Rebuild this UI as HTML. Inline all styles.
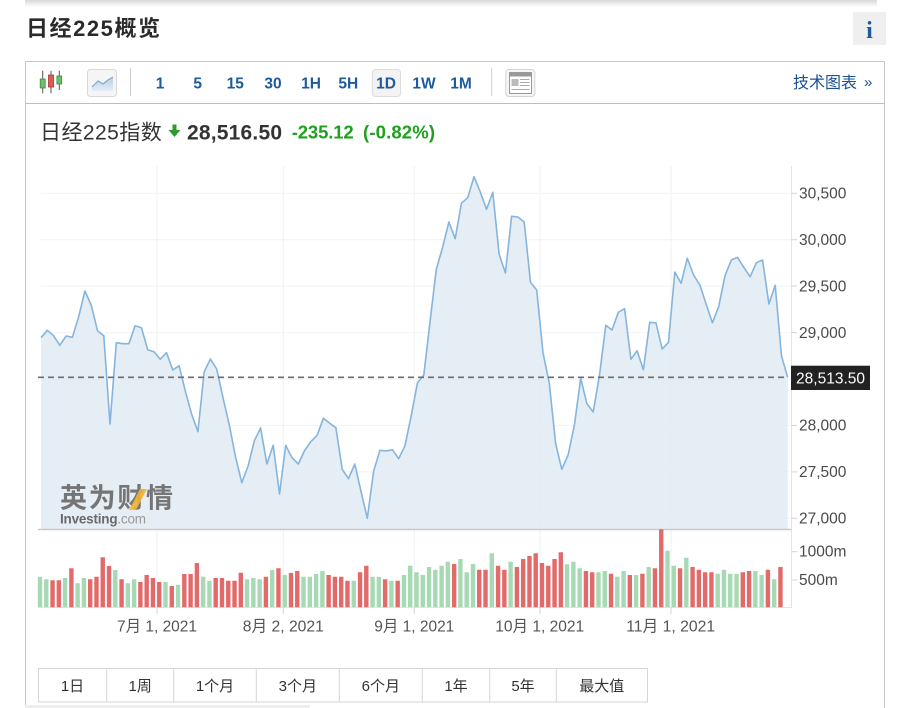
<!DOCTYPE html>
<html><head><meta charset="utf-8"><style>
html,body{margin:0;padding:0;background:#fff;width:913px;height:708px;overflow:hidden;}
svg{display:block;font-family:"Liberation Sans","Noto Sans CJK SC",sans-serif;}
</style></head><body>
<svg width="913" height="708" viewBox="0 0 913 708" xmlns="http://www.w3.org/2000/svg">
<defs>
<linearGradient id="sh" x1="0" y1="0" x2="0" y2="1"><stop offset="0" stop-color="#d8d8d8"/><stop offset="1" stop-color="#ffffff"/></linearGradient>
<linearGradient id="ic" x1="0" y1="0" x2="0" y2="1"><stop offset="0" stop-color="#b9cfe6"/><stop offset="1" stop-color="#e4edf6"/></linearGradient>
</defs>
<!-- top shadow -->
<rect x="25" y="0" width="852" height="7" fill="url(#sh)"/>
<!-- title -->
<text x="26" y="36" font-size="22" font-weight="bold" fill="#2a2a2a" textLength="134" lengthAdjust="spacing">日经225概览</text>
<!-- info button -->
<rect x="853" y="12" width="33" height="33" fill="#efefef"/>
<text x="869.5" y="38" font-size="24" font-weight="bold" fill="#1e5aa0" text-anchor="middle" font-family="Liberation Serif,serif">i</text>
<!-- outer box -->
<g stroke="#c8c8c8" stroke-width="1">
<line x1="25" y1="61.5" x2="885" y2="61.5"/>
<line x1="25.5" y1="61" x2="25.5" y2="708"/>
<line x1="884.5" y1="61" x2="884.5" y2="708"/>
</g>
<line x1="25" y1="103.5" x2="885" y2="103.5" stroke="#bdbdbd"/>
<!-- candle icon -->
<g stroke="#555" stroke-width="1">
<line x1="42.7" y1="70.7" x2="42.7" y2="93.3"/><line x1="51" y1="70.7" x2="51" y2="93.3"/><line x1="59.3" y1="70.7" x2="59.3" y2="90"/>
</g>
<rect x="40.2" y="79" width="5" height="9" fill="#6cc06c" stroke="#3a8a3a" stroke-width="0.8"/>
<rect x="48.5" y="75" width="5" height="12" fill="#e05a5a" stroke="#a33" stroke-width="0.8"/>
<rect x="56.9" y="76" width="4.8" height="8" fill="#6cc06c" stroke="#3a8a3a" stroke-width="0.8"/>
<!-- line icon btn -->
<rect x="87.5" y="69.5" width="29" height="27" rx="3" fill="#f5f5f5" stroke="#d8d8d8"/>
<polygon points="92,87 98,81 103,84 108,80 113,77 113,91 92,91" fill="url(#ic)"/>
<polyline points="92,87 98,81 103,84 108,80 113,77" fill="none" stroke="#7fa7cf" stroke-width="1.2"/>
<line x1="130.5" y1="68" x2="130.5" y2="96" stroke="#cfcfcf"/>
<!-- 1D box -->
<rect x="372.5" y="69.5" width="28" height="27" rx="3" fill="#f3f3f3" stroke="#dcdcdc"/>
<g font-size="15.5" font-weight="bold" fill="#1d5a9e" text-anchor="middle">
<text x="160" y="88.3">1</text><text x="197.7" y="88.3">5</text><text x="235.3" y="88.3">15</text><text x="273" y="88.3">30</text><text x="311" y="88.3">1H</text><text x="348.3" y="88.3">5H</text><text x="386" y="88.3">1D</text><text x="424" y="88.3">1W</text><text x="461" y="88.3">1M</text>
</g>
<line x1="491.7" y1="68" x2="491.7" y2="96" stroke="#cfcfcf"/>
<!-- table icon -->
<rect x="505.8" y="69.5" width="29" height="27" rx="3" fill="#f6f6f6" stroke="#d4d4d4"/>
<rect x="509.5" y="72.5" width="22" height="21" fill="#fff" stroke="#999"/>
<rect x="510" y="73" width="21" height="3.5" fill="#999"/>
<rect x="511.5" y="79" width="7" height="7" fill="#bbb"/>
<g stroke="#aaa" stroke-width="1"><line x1="520" y1="79.5" x2="529.5" y2="79.5"/><line x1="520" y1="82.5" x2="529.5" y2="82.5"/><line x1="520" y1="85.5" x2="529.5" y2="85.5"/><line x1="511.5" y1="89.5" x2="529.5" y2="89.5"/></g>
<text x="793" y="88" font-size="16" fill="#1b5190" textLength="64" lengthAdjust="spacing">技术图表</text>
<text x="864" y="87" font-size="15" fill="#1b5190">»</text>
<!-- quote row -->
<text x="40" y="139.3" font-size="21" fill="#333" textLength="121.7" lengthAdjust="spacing">日经225指数</text>
<rect x="172.5" y="124.5" width="4" height="6" fill="#2e9b2e"/>
<polygon points="168.5,130 180.5,130 174.5,137" fill="#2e9b2e"/>
<text x="187" y="139.3" font-size="21" font-weight="bold" fill="#333" textLength="95" lengthAdjust="spacing">28,516.50</text>
<text x="291.7" y="138.7" font-size="18.5" font-weight="bold" fill="#1fa01f" textLength="62" lengthAdjust="spacing">-235.12</text>
<text x="363" y="138.7" font-size="18.5" font-weight="bold" fill="#1fa01f" textLength="72" lengthAdjust="spacing">(-0.82%)</text>

<!-- grid -->
<g stroke="#f1f2f4" stroke-width="1">
<line x1="41" y1="193.3" x2="791" y2="193.3"/><line x1="41" y1="239.7" x2="791" y2="239.7"/><line x1="41" y1="286.1" x2="791" y2="286.1"/><line x1="41" y1="332.6" x2="791" y2="332.6"/><line x1="41" y1="379" x2="791" y2="379"/><line x1="41" y1="425.4" x2="791" y2="425.4"/><line x1="41" y1="471.9" x2="791" y2="471.9"/><line x1="41" y1="518.3" x2="791" y2="518.3"/>
<line x1="157" y1="166" x2="157" y2="607"/><line x1="283.3" y1="166" x2="283.3" y2="607"/><line x1="414.3" y1="166" x2="414.3" y2="607"/><line x1="540" y1="166" x2="540" y2="607"/><line x1="671" y1="166" x2="671" y2="607"/>
</g>
<!-- area -->
<polygon fill="#e3ecf4" fill-opacity="0.92" points="41,337.7 47.3,330.3 53.6,335.7 59.8,345.3 66.1,336 72.4,337.3 78.7,316.7 84.9,291 91.2,305 97.5,330.7 103.8,335.7 110,424 116.3,342.7 122.6,343.7 128.9,343.7 135.1,325.7 141.4,327.7 147.7,349.7 154,351.7 160.2,359.3 166.5,352.7 172.8,370 179.1,365.7 185.3,391 191.6,414 197.9,431.7 204.2,371.7 210.4,359 216.7,369 223,397.7 229.3,425 235.5,456.7 241.8,482.7 248.1,466 254.4,440.7 260.6,428 266.9,464 273.2,445.3 279.5,494 285.7,445.3 292,457.7 298.3,464 304.6,450.5 310.8,441.7 317.1,435.3 323.4,418.3 329.7,423.3 335.9,427.7 342.2,469.3 348.5,478.7 354.8,464 361,491.3 367.3,518.3 373.6,471.3 379.9,450.3 386.1,451 392.4,449.7 398.7,458.7 405,445.7 411.2,415.7 417.5,382.7 423.8,375 430,322 436.3,269.3 442.6,247.3 448.9,222 455.2,238.7 461.4,203.3 467.7,197.7 474,176.7 480.3,192 486.5,209.3 492.8,192.3 499.1,254 505.4,273 511.6,216.3 517.9,217 524.2,222 530.5,282.3 536.7,290 543,352.7 549.3,383.3 555.6,443.3 561.8,469.3 568.1,455 574.4,425 580.7,378.3 586.9,403.7 593.2,412 599.5,375 605.8,325.3 612,330 618.3,312.3 624.6,308.7 630.9,359.3 637.1,350.7 643.4,369.7 649.7,322.3 656,323 662.2,349 668.5,342.3 674.8,272 681.1,283.3 687.3,258.3 693.6,275 699.9,285 706.2,304.3 712.4,322.7 718.7,306.7 725,275.7 731.3,260 737.5,257.3 743.8,267.3 750.1,276.7 756.4,262.7 762.6,260 768.9,304 775.2,285.3 781.5,356 787.7,377.3 787.7,529 41,529"/>
<!-- watermark -->
<text x="60" y="507.5" font-size="27" font-weight="bold" fill="#757575" textLength="113" lengthAdjust="spacing">英为财情</text>
<polygon points="140,489 147,489 136,510 129,510" fill="#f2b233" opacity="0.9"/>
<text x="60" y="523.5" font-size="13.5" fill="#6a6a6a" textLength="86" lengthAdjust="spacing"><tspan font-weight="bold">Investing</tspan><tspan fill="#9a9a9a">.com</tspan></text>
<!-- line -->
<polyline fill="none" stroke="#85b5dd" stroke-width="1.6" stroke-linejoin="round" points="41,337.7 47.3,330.3 53.6,335.7 59.8,345.3 66.1,336 72.4,337.3 78.7,316.7 84.9,291 91.2,305 97.5,330.7 103.8,335.7 110,424 116.3,342.7 122.6,343.7 128.9,343.7 135.1,325.7 141.4,327.7 147.7,349.7 154,351.7 160.2,359.3 166.5,352.7 172.8,370 179.1,365.7 185.3,391 191.6,414 197.9,431.7 204.2,371.7 210.4,359 216.7,369 223,397.7 229.3,425 235.5,456.7 241.8,482.7 248.1,466 254.4,440.7 260.6,428 266.9,464 273.2,445.3 279.5,494 285.7,445.3 292,457.7 298.3,464 304.6,450.5 310.8,441.7 317.1,435.3 323.4,418.3 329.7,423.3 335.9,427.7 342.2,469.3 348.5,478.7 354.8,464 361,491.3 367.3,518.3 373.6,471.3 379.9,450.3 386.1,451 392.4,449.7 398.7,458.7 405,445.7 411.2,415.7 417.5,382.7 423.8,375 430,322 436.3,269.3 442.6,247.3 448.9,222 455.2,238.7 461.4,203.3 467.7,197.7 474,176.7 480.3,192 486.5,209.3 492.8,192.3 499.1,254 505.4,273 511.6,216.3 517.9,217 524.2,222 530.5,282.3 536.7,290 543,352.7 549.3,383.3 555.6,443.3 561.8,469.3 568.1,455 574.4,425 580.7,378.3 586.9,403.7 593.2,412 599.5,375 605.8,325.3 612,330 618.3,312.3 624.6,308.7 630.9,359.3 637.1,350.7 643.4,369.7 649.7,322.3 656,323 662.2,349 668.5,342.3 674.8,272 681.1,283.3 687.3,258.3 693.6,275 699.9,285 706.2,304.3 712.4,322.7 718.7,306.7 725,275.7 731.3,260 737.5,257.3 743.8,267.3 750.1,276.7 756.4,262.7 762.6,260 768.9,304 775.2,285.3 781.5,356 787.7,377.3"/>
<!-- dashed current line -->
<line x1="38" y1="377.3" x2="788" y2="377.3" stroke="#6e6e6e" stroke-width="1.6" stroke-dasharray="6,4"/>
<!-- axes -->
<line x1="38" y1="529.5" x2="791" y2="529.5" stroke="#c9c9c9" stroke-width="1.5"/>
<line x1="38" y1="607.5" x2="791" y2="607.5" stroke="#e2e7ec"/>
<line x1="791.5" y1="166" x2="791.5" y2="608" stroke="#dfe5ea"/>
<g stroke="#cfd6dc">
<line x1="792" y1="193.3" x2="797" y2="193.3"/><line x1="792" y1="239.7" x2="797" y2="239.7"/><line x1="792" y1="286.1" x2="797" y2="286.1"/><line x1="792" y1="332.6" x2="797" y2="332.6"/><line x1="792" y1="425.4" x2="797" y2="425.4"/><line x1="792" y1="471.9" x2="797" y2="471.9"/><line x1="792" y1="518.3" x2="797" y2="518.3"/><line x1="792" y1="551.7" x2="797" y2="551.7"/><line x1="792" y1="580" x2="797" y2="580"/>
<line x1="157" y1="607" x2="157" y2="614"/><line x1="283.3" y1="607" x2="283.3" y2="614"/><line x1="414.3" y1="607" x2="414.3" y2="614"/><line x1="540" y1="607" x2="540" y2="614"/><line x1="671" y1="607" x2="671" y2="614"/>
</g>
<!-- volume bars -->
<path fill="none" stroke="#a7d9b4" stroke-width="4.4" d="M40 607.3V576.7 M46.28 607.3V579.3 M65.1 607.3V578 M77.65 607.3V583.3 M83.93 607.3V578 M115.3 607.3V570 M127.85 607.3V583.3 M134.13 607.3V579.3 M165.5 607.3V582 M178.05 607.3V584.7 M203.15 607.3V576.7 M209.43 607.3V580.7 M247.08 607.3V579.3 M253.35 607.3V578 M259.63 607.3V579.3 M272.18 607.3V570 M284.73 607.3V575 M303.55 607.3V576.7 M309.83 607.3V576.7 M316.1 607.3V574 M322.38 607.3V571 M353.75 607.3V580.7 M372.58 607.3V576.7 M378.85 607.3V576.7 M391.4 607.3V580.7 M403.95 607.3V575 M410.23 607.3V565.7 M416.5 607.3V572.3 M422.78 607.3V575 M429.05 607.3V567 M435.33 607.3V569.7 M441.6 607.3V565.7 M447.88 607.3V561.7 M460.43 607.3V559 M466.7 607.3V572.3 M472.98 607.3V564 M491.8 607.3V553.3 M510.63 607.3V561.7 M567.1 607.3V564.3 M573.38 607.3V561.7 M579.65 607.3V568.3 M598.48 607.3V572.3 M604.75 607.3V571 M617.3 607.3V576.7 M623.58 607.3V571 M636.13 607.3V575 M648.68 607.3V567 M667.5 607.3V550.7 M673.78 607.3V565.7 M686.33 607.3V557.7 M717.7 607.3V573.7 M723.98 607.3V569.7 M730.25 607.3V573.7 M736.53 607.3V573.7 M755.35 607.3V571 M761.63 607.3V575 M774.18 607.3V579.3"/>
<path fill="none" stroke="#e36a6a" stroke-width="4.4" d="M52.55 607.3V580.3 M58.83 607.3V580.3 M71.38 607.3V568.3 M90.2 607.3V579.3 M96.48 607.3V576.7 M102.75 607.3V557.3 M109.03 607.3V566 M121.58 607.3V579.3 M140.4 607.3V582 M146.68 607.3V575 M152.95 607.3V578 M159.23 607.3V582 M171.78 607.3V586 M184.33 607.3V574 M190.6 607.3V574 M196.88 607.3V563 M215.7 607.3V578 M221.98 607.3V578 M228.25 607.3V580.7 M234.53 607.3V580.7 M240.8 607.3V572.7 M265.9 607.3V576.7 M278.45 607.3V568.3 M291 607.3V573 M297.28 607.3V571 M328.65 607.3V575 M334.93 607.3V576.7 M341.2 607.3V576.7 M347.48 607.3V580.7 M360.03 607.3V572.3 M366.3 607.3V565.7 M385.13 607.3V579.3 M397.68 607.3V580.7 M454.15 607.3V564 M479.25 607.3V569.7 M485.53 607.3V569.7 M498.08 607.3V565.7 M504.35 607.3V569.7 M516.9 607.3V567 M523.18 607.3V559 M529.45 607.3V556 M535.73 607.3V553.3 M542 607.3V563 M548.28 607.3V565.7 M554.55 607.3V559 M560.83 607.3V552.3 M585.93 607.3V571 M592.2 607.3V572.3 M611.03 607.3V573.7 M629.85 607.3V575 M642.4 607.3V573.7 M654.95 607.3V568.3 M661.23 607.3V529.3 M680.05 607.3V568.3 M692.6 607.3V567 M698.88 607.3V569.7 M705.15 607.3V572.3 M711.43 607.3V572.3 M742.8 607.3V572.3 M749.08 607.3V571 M767.9 607.3V569.7 M780.45 607.3V567"/>
<!-- y labels -->
<g font-size="15.5" fill="#4a4a4a">
<text x="799" y="198.5">30,500</text><text x="799" y="244.9">30,000</text><text x="799" y="291.3">29,500</text><text x="799" y="337.8">29,000</text><text x="799" y="430.6">28,000</text><text x="799" y="477.1">27,500</text><text x="799" y="523.5">27,000</text>
<text x="799" y="556.7">1000m</text><text x="799" y="585">500m</text>
</g>
<rect x="791" y="365.7" width="79" height="24.3" fill="#222"/>
<text x="796" y="383.3" font-size="15.5" fill="#fff" textLength="69" lengthAdjust="spacing">28,513.50</text>
<!-- x labels -->
<g font-size="16" fill="#555" text-anchor="middle">
<text x="157" y="631.5" textLength="80" lengthAdjust="spacingAndGlyphs">7月 1, 2021</text>
<text x="283.3" y="631.5" textLength="81" lengthAdjust="spacingAndGlyphs">8月 2, 2021</text>
<text x="414.3" y="631.5" textLength="80" lengthAdjust="spacingAndGlyphs">9月 1, 2021</text>
<text x="539.7" y="631.5" textLength="89" lengthAdjust="spacingAndGlyphs">10月 1, 2021</text>
<text x="670.7" y="631.5" textLength="89" lengthAdjust="spacingAndGlyphs">11月 1, 2021</text>
</g>
<!-- bottom range buttons -->
<rect x="38.5" y="668.5" width="609" height="33.5" fill="#fff" stroke="#d6d6d6"/>
<g stroke="#d6d6d6"><line x1="106.7" y1="669" x2="106.7" y2="702"/><line x1="173.7" y1="669" x2="173.7" y2="702"/><line x1="256.3" y1="669" x2="256.3" y2="702"/><line x1="339.3" y1="669" x2="339.3" y2="702"/><line x1="422.3" y1="669" x2="422.3" y2="702"/><line x1="489.7" y1="669" x2="489.7" y2="702"/><line x1="556.3" y1="669" x2="556.3" y2="702"/></g>
<g font-size="15" fill="#333" text-anchor="middle">
<text x="72.5" y="691">1日</text><text x="140.2" y="691">1周</text><text x="215" y="691">1个月</text><text x="297.8" y="691">3个月</text><text x="380.8" y="691">6个月</text><text x="456" y="691">1年</text><text x="523" y="691">5年</text><text x="601.8" y="691">最大值</text>
</g>
<rect x="25" y="705" width="285" height="3" fill="#eeeeee"/>
</svg>
</body></html>
